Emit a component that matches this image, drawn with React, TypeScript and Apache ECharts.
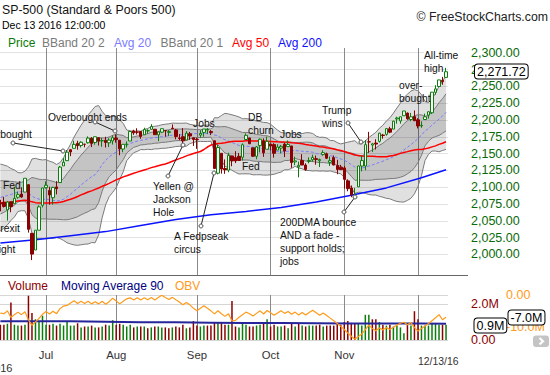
import React, { useEffect, useRef } from 'react';
import * as echarts from 'echarts';

// ---- data ---------------------------------------------------------------
// closes before the window (Apr 1 - Jun 13 2016) used by the moving averages
const PRE_CLOSES = [
  2072.78, 2066.13, 2045.17, 2066.66, 2041.91, 2047.6, 2041.99, 2061.72, 2082.42, 2082.78, 2080.73,
  2094.34, 2100.8, 2102.4, 2091.48, 2091.58, 2087.79, 2091.7, 2095.15, 2075.81, 2065.3,
  2081.43, 2063.37, 2051.12, 2050.63, 2057.14, 2058.69, 2084.39, 2064.46, 2064.11, 2046.61,
  2066.66, 2047.21, 2047.63, 2040.04, 2052.32, 2048.04, 2076.06, 2090.54, 2090.1, 2099.06, 2096.95,
  2099.33, 2105.26, 2099.13, 2109.41, 2112.13, 2119.12, 2115.48, 2096.07, 2079.06,
];

// Jun 14 2016 .. Dec 13 2016 (128 sessions)
const OPEN = [
  2076.65, 2077.6, 2066.36, 2078.2, 2075.58, 2085.19, 2089.75, 2092.8, 2103.81, 2031.45, 2006.67, 2036.09, 2073.17,
  2099.34, 2095.05, 2084.43, 2100.42, 2106.97, 2131.72, 2139.5, 2155.81, 2157.88, 2165.13, 2162.04, 2163.79, 2166.1,
  2172.91, 2166.47, 2173.71, 2168.97, 2169.81, 2166.05, 2168.83,
  2173.15, 2169.94, 2156.81, 2163.51, 2168.79, 2183.76, 2182.24, 2182.81, 2177.97, 2183.74, 2186.08, 2186.24, 2177.84,
  2181.9, 2184.24, 2181.58, 2187.81, 2185.09, 2173.29, 2175.1, 2170.19, 2179.45, 2173.56,
  2171.33, 2177.49, 2181.61, 2185.17, 2182.76, 2169.08, 2120.86, 2150.47, 2127.86, 2125.36, 2146.48, 2143.99, 2145.94,
  2144.58, 2170.94, 2173.29, 2158.54, 2146.04, 2161.85, 2168.9, 2156.51,
  2164.33, 2163.37, 2155.15, 2158.22, 2164.19, 2160.39, 2161.35, 2137.67, 2130.26, 2139.68, 2132.95, 2138.31, 2140.81,
  2142.51, 2139.43, 2148.5, 2149.72, 2136.97, 2144.06, 2132.23, 2129.78,
  2128.68, 2109.43, 2098.8, 2083.79, 2100.59, 2131.56, 2131.56, 2167.49, 2162.71, 2165.64, 2168.29, 2177.53, 2178.61,
  2186.85, 2186.43, 2201.56, 2198.55, 2206.27, 2210.21, 2200.76, 2204.97,
  2200.17, 2191.12, 2200.65, 2207.26, 2210.72, 2241.13, 2249.73, 2258.83, 2263.32,
];
const HIGH = [
  2081.3, 2085.65, 2079.62, 2078.2, 2100.66, 2093.66, 2099.71, 2113.32, 2103.81, 2031.45, 2036.09, 2073.13, 2098.94,
  2108.71, 2100.72, 2100.72, 2109.08, 2131.71, 2143.16, 2155.4, 2156.45, 2169.05, 2169.05, 2168.35, 2164.63, 2175.63,
  2174.56, 2175.11, 2173.71, 2173.54, 2174.98, 2172.85, 2177.09,
  2178.29, 2170.2, 2163.79, 2168.19, 2182.87, 2185.44, 2187.66, 2183.41, 2188.45, 2186.28, 2193.81, 2186.24, 2183.08,
  2187.03, 2185.0, 2184.93, 2193.42, 2186.66, 2179.0, 2187.94, 2183.48, 2182.27, 2173.79,
  2173.56, 2184.87, 2186.57, 2187.87, 2184.94, 2169.08, 2163.3, 2150.47, 2141.33, 2151.31, 2146.48, 2153.61, 2150.8,
  2165.11, 2179.99, 2173.75, 2158.54, 2161.13, 2172.4, 2172.67, 2175.3,
  2164.41, 2165.46, 2163.95, 2162.93, 2165.86, 2169.6, 2161.56, 2145.36, 2138.19, 2149.19, 2135.61, 2144.38, 2148.44,
  2147.18, 2142.63, 2154.79, 2151.44, 2145.73, 2147.13, 2140.72, 2133.25,
  2131.45, 2111.76, 2102.56, 2099.07, 2132.0, 2146.87, 2170.1, 2182.3, 2165.92, 2171.36, 2180.84, 2179.22, 2188.06,
  2189.89, 2198.7, 2204.8, 2204.72, 2213.35, 2211.14, 2210.46, 2214.1,
  2202.6, 2197.95, 2209.42, 2212.78, 2241.63, 2251.69, 2259.8, 2264.03, 2277.53,
];
const LOW = [
  2064.1, 2069.8, 2050.37, 2062.84, 2075.58, 2083.02, 2084.36, 2092.8, 2032.57, 1991.68, 2006.67, 2036.09, 2070.0,
  2097.9, 2074.02, 2074.02, 2089.39, 2106.97, 2131.72, 2139.5, 2146.21, 2157.88, 2155.79, 2159.07, 2159.4, 2164.89,
  2159.75, 2163.24, 2161.95, 2160.18, 2159.07, 2159.74, 2163.49,
  2166.21, 2147.58, 2152.02, 2159.07, 2168.79, 2177.85, 2178.61, 2172.0, 2177.97, 2179.42, 2186.08, 2178.14, 2168.5,
  2180.46, 2175.13, 2175.96, 2186.8, 2171.25, 2169.74, 2160.39, 2170.19, 2170.41, 2161.35,
  2157.09, 2173.59, 2175.1, 2179.07, 2177.49, 2127.81, 2119.12, 2120.27, 2119.9, 2122.36, 2131.2, 2135.91, 2139.17,
  2139.57, 2170.94, 2163.97, 2145.04, 2141.55, 2151.79, 2145.2, 2156.51,
  2154.77, 2144.01, 2155.15, 2150.28, 2144.85, 2160.39, 2128.84, 2132.77, 2114.72, 2132.98, 2124.43, 2135.49, 2138.15,
  2133.44, 2130.09, 2146.91, 2141.93, 2131.59, 2132.52, 2119.36, 2125.53,
  2097.85, 2094.0, 2085.23, 2083.79, 2100.59, 2123.56, 2125.35, 2151.17, 2152.49, 2156.08, 2166.38, 2172.2, 2176.65,
  2180.38, 2186.43, 2194.51, 2194.51, 2206.27, 2200.36, 2198.15, 2198.81,
  2187.44, 2188.37, 2199.97, 2202.21, 2208.93, 2237.57, 2249.23, 2252.37, 2263.32,
];
const CLOSE = [
  2075.32, 2071.5, 2077.99, 2071.22, 2083.25, 2088.9, 2085.45, 2113.32, 2037.41, 2000.54, 2036.09, 2070.77, 2098.86,
  2102.95, 2088.55, 2099.73, 2097.9, 2129.9, 2137.16, 2152.14, 2152.43, 2163.75, 2161.74, 2166.89, 2163.78, 2173.02,
  2165.17, 2175.03, 2168.48, 2169.18, 2166.58, 2170.06, 2173.6,
  2170.84, 2157.03, 2163.79, 2164.25, 2182.87, 2180.89, 2181.74, 2175.49, 2185.79, 2184.05, 2190.15, 2178.15, 2182.22,
  2187.02, 2183.87, 2182.64, 2186.9, 2175.44, 2172.47, 2169.04, 2180.38, 2176.12, 2170.95,
  2170.86, 2179.98, 2186.48, 2186.16, 2181.3, 2127.81, 2159.04, 2127.02, 2125.77, 2147.26, 2139.16, 2139.12, 2139.76,
  2163.12, 2177.18, 2164.69, 2146.1, 2159.93, 2171.37, 2151.13, 2168.27,
  2161.2, 2150.49, 2159.73, 2160.77, 2153.74, 2163.66, 2136.73, 2139.18, 2132.55, 2132.98, 2126.5, 2139.6, 2144.29,
  2141.34, 2141.16, 2151.33, 2143.16, 2139.43, 2133.04, 2126.41, 2126.15,
  2111.72, 2097.94, 2088.66, 2085.18, 2131.52, 2139.56, 2163.26, 2167.48, 2164.45, 2164.2, 2180.39, 2176.94, 2187.12,
  2181.9, 2198.18, 2202.94, 2204.72, 2213.35, 2201.72, 2204.66, 2198.81,
  2191.08, 2191.95, 2204.71, 2212.23, 2241.35, 2246.19, 2259.53, 2256.96, 2271.72,
];
// volume in millions
const VOLUME = [
  0.85, 0.85, 0.9, 2.09, 0.85, 0.8, 0.8, 0.85, 2.46, 1.5, 1.15, 1.05, 1.35,
  0.85, 0.85, 0.9, 0.8, 0.9, 0.8, 1.0, 0.8, 0.8, 0.93, 0.7, 0.75, 0.75, 0.8, 0.7, 0.7, 0.75, 0.85, 0.8, 1.1,
  0.85, 0.9, 0.85, 0.75, 0.85, 0.7, 0.75, 0.75, 0.75, 0.65, 0.7, 0.75, 0.75, 0.7, 0.7, 0.65, 0.7, 0.75, 0.7, 0.85, 0.65, 0.7, 1.05,
  0.8, 0.75, 0.8, 0.8, 0.8, 0.95, 1.0, 0.95, 0.85, 0.85, 2.17, 0.75, 0.7, 0.95, 0.85, 0.75, 0.75, 0.8, 0.85, 1.0, 1.15,
  0.75, 0.85, 0.75, 0.75, 0.8, 0.65, 0.9, 0.75, 0.9, 0.8, 0.75, 0.8, 0.8, 0.8, 0.85, 0.75, 0.8, 0.8, 0.8, 0.9, 0.85,
  1.0, 1.05, 0.95, 0.95, 0.9, 0.8, 1.4, 1.4, 1.15, 1.15, 1.0, 0.85, 0.8, 0.85, 0.75, 0.8, 0.7, 0.38, 0.85, 0.8, 1.6,
  1.15, 0.8, 0.8, 0.8, 0.95, 0.9, 0.85, 0.85, 0.85,
];
// on-balance volume in millions
const OBV = [
  -5.7, -5.9, -5.0, -7.1, -6.2, -5.4, -6.2, -5.3, -7.8, -9.6, -8.5, -7.4, -6.1,
  -5.2, -6.0, -5.1, -5.9, -4.3, -3.5, -3.3, -2.5, -1.8, -2.7, -2.0, -2.7, -2.0, -2.8, -2.1, -2.8, -2.0, -2.9, -2.1, -1.0,
  -1.9, -2.8, -1.95, -1.2, -0.9, -1.6, -0.85, -1.6, -0.85, -1.5, -0.8, -1.55, -0.8, -0.1, -0.8, -1.45, -0.75, -1.5, -2.2,
  -3.05, -2.4, -3.1, -4.15,
  -4.95, -4.2, -3.4, -4.2, -5.0, -5.95, -4.95, -5.9, -6.75, -5.9, -8.2, -8.0, -7.0, -6.2, -5.4, -5.9, -6.6, -5.8, -5.0,
  -6.0, -4.9,
  -5.6, -6.4, -5.7, -5.0, -5.8, -5.2, -6.1, -5.4, -6.3, -5.5, -6.3, -5.5, -4.8, -5.6, -6.4, -5.7, -6.5, -7.3, -8.1, -9.0,
  -9.9,
  -10.9, -12.0, -13.0, -14.0, -13.1, -12.3, -10.9, -9.5, -10.6, -11.3, -10.4, -11.0, -10.3, -10.9, -10.2, -9.5, -8.9,
  -8.6, -9.4, -8.7, -10.3,
  -11.4, -10.6, -9.8, -9.0, -8.1, -7.2, -6.2, -7.8, -7.0,
];
// [session index, value]
const SMA200 = [
  [0, 2017], [10, 2022], [20, 2028], [30, 2034], [40, 2043], [50, 2052], [60, 2059], [70, 2064],
  [80, 2070], [90, 2078], [100, 2088], [110, 2099], [120, 2114], [127, 2126],
];
const VOL_MA90 = [
  [0, 1.04], [10, 1.04], [20, 1.04], [30, 1.02], [40, 0.99], [50, 0.98], [60, 0.96], [70, 0.94],
  [80, 0.94], [90, 0.93], [100, 0.92], [110, 0.92], [120, 0.91], [127, 0.9],
];

const MONTH_TICKS = [13, 33, 56, 77, 98, 119];
const MONTH_NAMES = ['Jul', 'Aug', 'Sep', 'Oct', 'Nov', 'Dec'];
const PRICE_TICKS = [2000, 2025, 2050, 2075, 2100, 2125, 2150, 2175, 2200, 2225, 2250, 2275, 2300];
const VOL_GRID = [0, 2.0, 2.5];
const VOL_LABELS = [0, 2.0];
const OBV_LABELS = [0, -10];

const LAST_PRICE = '2,271.72';
const LAST_VOL_MA = '0.9M';
const LAST_OBV = '-7.0M';

// ---- layout / style -----------------------------------------------------
const FONT = '"Liberation Sans", Arial, sans-serif';
const X_MIN = -0.11;
const X_MAX = 127.56;

const ANNOTATIONS: { t: string; x: number; y: number; bg?: boolean }[] = [
  { t: 'Overbought ends', x: 48, y: 117 },
  { t: 'Overbought', x: -22, y: 134 },
  { t: 'Fed', x: 3, y: 185 },
  { t: 'Brexit', x: -6.5, y: 228 },
  { t: 'fright', x: -7.5, y: 249 },
  { t: 'Yellen @\nJackson\nHole', x: 153, y: 186 },
  { t: 'A Fedpseak\ncircus', x: 174, y: 236 },
  { t: 'Jobs', x: 193, y: 123 },
  { t: 'DB\nchurn', x: 248, y: 117 },
  { t: 'Jobs', x: 280, y: 134 },
  { t: 'Fed', x: 242, y: 166 },
  { t: 'Trump\nwins', x: 322, y: 110 },
  { t: '200DMA bounce\nAND a fade -\nsupport holds;\njobs', x: 280, y: 222 },
  { t: 'over-\nbought', x: 399, y: 85 },
  { t: 'All-time', x: 424, y: 55, bg: true },
  { t: 'high', x: 424, y: 68 },
];
const LEADERS = [
  [95, 122, 115, 131],
  [13, 143, 63, 151],
  [168, 176, 183, 145],
  [201, 226, 214, 173],
  [348, 123, 361, 142],
  [344, 212, 355, 197],
];

function rolling(n: number, k: number) {
  const all = PRE_CLOSES.concat(CLOSE);
  const mid: number[] = [], up: number[] = [], lo: number[] = [];
  for (let i = 0; i < CLOSE.length; i++) {
    const p = PRE_CLOSES.length + i;
    const w = all.slice(p - n + 1, p + 1);
    const m = w.reduce((a, b) => a + b, 0) / w.length;
    const sd = Math.sqrt(w.reduce((a, b) => a + (b - m) * (b - m), 0) / w.length);
    mid.push(m);
    up.push(m + k * sd);
    lo.push(m - k * sd);
  }
  return { mid, up, lo };
}

export default function App() {
  const ref = useRef<HTMLDivElement>(null);
  useEffect(() => {
    if (!ref.current) return;
    document.body.style.margin = '0';
    const chart = echarts.init(ref.current, undefined, { renderer: 'svg' });

    const bb2 = rolling(20, 2);
    const bb1 = rolling(20, 1);
    const sma50 = rolling(50, 0).mid;
    const idx = CLOSE.map((_, i) => i);
    const pair = (arr: number[]) => arr.map((v, i) => [i, v]);

    const bandLine = (arr: number[]) => ({
      type: 'line', xAxisIndex: 0, yAxisIndex: 0, data: pair(arr), showSymbol: false, symbol: 'none',
      lineStyle: { color: '#7a7a7a', width: 1 }, z: 3, silent: true,
    });
    const bandFill = (band: { up: number[]; lo: number[] }, fill: string, z: number) => ({
      type: 'custom', xAxisIndex: 0, yAxisIndex: 0, z, silent: true,
      data: idx.map((i) => [i, band.lo[i], band.up[i]]),
      encode: { x: 0, y: [1, 2] },
      renderItem: (params: any, api: any) => {
        if (params.dataIndex !== 0) return null;
        const top = idx.map((i) => api.coord([i, band.up[i]]));
        const bot = idx.map((i) => api.coord([i, band.lo[i]])).reverse();
        return { type: 'polygon', shape: { points: top.concat(bot) }, style: { fill } };
      },
    });

    const candles = idx.map((i) => [i, OPEN[i], CLOSE[i], LOW[i], HIGH[i]]);
    const volBars = idx.map((i) => {
      const prev = i === 0 ? PRE_CLOSES[PRE_CLOSES.length - 1] : CLOSE[i - 1];
      return { value: [i, VOLUME[i]], itemStyle: { color: CLOSE[i] >= prev ? '#0b7d0b' : '#8b0000' } };
    });

    const txt = (text: string, x: number, y: number, color: string, size: number, extra: any = {}) => ({
      type: 'text', z: 100,
      style: { text, x, y, fill: color, fontSize: size, fontFamily: FONT, verticalAlign: 'middle', ...extra },
    });

    const graphics: any[] = [
      txt('SP-500 (Standard & Poors 500)', 2, 10, '#111', 12.3),
      txt('Dec 13 2016 12:00:00', 2, 25, '#000', 10.5),
      txt('\u00a9 FreeStockCharts.com', 548, 17, '#222', 12.3, { align: 'right' }),
      txt('Price', 8, 43, '#0a7a0a', 12),
      txt('BBand 20 2', 42, 43, '#7a7a7a', 12),
      txt('Avg 20', 114, 43, '#7b7bff', 12),
      txt('BBand 20 1', 160.5, 43, '#7a7a7a', 12),
      txt('Avg 50', 232, 43, '#ff0000', 12),
      txt('Avg 200', 278, 43, '#1010ff', 12),
      txt('Volume', 8, 286, '#8b0000', 12),
      txt('Moving Average 90', 61, 286, '#000080', 12),
      txt('OBV', 175, 286, '#ff9a1a', 12),
      txt('12/13/16', 418, 361.5, '#333', 10.4),
      txt('2016', 12.5, 368, '#333', 11, { align: 'right' }),
      { type: 'line', z: 90, shape: { x1: 0, y1: 275.5, x2: 468, y2: 275.5 }, style: { stroke: '#666', lineWidth: 1 } },
      txt(LAST_PRICE, 475, 71.5, '#000', 12.5, {
        backgroundColor: '#fff', borderColor: '#000', borderWidth: 1, borderRadius: 3, padding: [1, 2, 0, 2],
      }),
      txt(LAST_VOL_MA, 474.5, 325.5, '#000', 12.5, {
        backgroundColor: '#fff', borderColor: '#000', borderWidth: 1, borderRadius: 3, padding: [1, 2, 0, 2],
      }),
      txt(LAST_OBV, 508.5, 317.5, '#000', 12.5, {
        backgroundColor: '#fff', borderColor: '#000', borderWidth: 1, borderRadius: 3, padding: [1, 2, 0, 2],
      }),
      { type: 'rect', z: 100, shape: { x: 533, y: 335.5, width: 16, height: 11.5, r: 3 }, style: { fill: '#c4c4c4' } },
      { type: 'polyline', z: 101, shape: { points: [[539.5, 338], [543, 341.2], [539.5, 344.4]] }, style: { stroke: '#fff', lineWidth: 2.2, fill: 'none' } },
    ];
    ANNOTATIONS.forEach((a) => {
      graphics.push({
        type: 'text', z: 60,
        style: {
          text: a.t, x: a.x, y: a.y - 6.5, fill: '#111', fontSize: 10.3, fontFamily: FONT, lineHeight: 13,
          verticalAlign: 'top', ...(a.bg ? { backgroundColor: '#fff' } : {}),
        },
      });
    });
    LEADERS.forEach(([x1, y1, x2, y2]) => {
      graphics.push({ type: 'line', z: 61, shape: { x1, y1, x2, y2 }, style: { stroke: '#222', lineWidth: 1 } });
      graphics.push({ type: 'circle', z: 62, shape: { cx: x1, cy: y1, r: 2 }, style: { stroke: '#555', fill: '#fff', lineWidth: 1 } });
      graphics.push({ type: 'circle', z: 62, shape: { cx: x2, cy: y2, r: 2 }, style: { stroke: '#555', fill: '#fff', lineWidth: 1 } });
    });

    const priceFmt = (v: number) =>
      v.toLocaleString('en-US', { minimumFractionDigits: 2, maximumFractionDigits: 2 });

    chart.setOption({
      animation: false,
      textStyle: { fontFamily: FONT },
      grid: [
        { left: 0, top: 48, width: 448, height: 227, containLabel: false, outerBoundsMode: 'none' },
        { left: 0, top: 295, width: 448, height: 45, containLabel: false, outerBoundsMode: 'none' },
      ],
      xAxis: [
        {
          type: 'value', gridIndex: 0, min: X_MIN, max: X_MAX,
          axisLine: { show: false }, axisTick: { show: false, customValues: MONTH_TICKS },
          axisLabel: { show: false }, splitLine: { show: true, lineStyle: { color: '#8a8a8a', width: 1 } },
        },
        {
          type: 'value', gridIndex: 1, min: X_MIN, max: X_MAX,
          axisLine: { show: false }, axisTick: { show: false, customValues: MONTH_TICKS },
          axisLabel: {
            customValues: MONTH_TICKS.slice(0, 5),
            formatter: (v: number) => MONTH_NAMES[MONTH_TICKS.indexOf(v)] || '',
            color: '#333', fontSize: 11.3, margin: 9, fontFamily: FONT,
          },
          splitLine: { show: true, lineStyle: { color: '#8a8a8a', width: 1 } },
        },
      ],
      yAxis: [
        {
          type: 'value', gridIndex: 0, position: 'right', min: 1969.5, max: 2307,
          axisLine: { show: false }, axisTick: { show: false, customValues: PRICE_TICKS },
          axisLabel: {
            customValues: PRICE_TICKS, formatter: priceFmt, color: '#0a6a0a', fontSize: 12.5, margin: 23,
            align: 'left', fontFamily: FONT,
          },
          splitLine: { show: true, lineStyle: { color: '#e2e2e2', width: 1 } },
        },
        {
          type: 'value', gridIndex: 1, position: 'right', min: 0, max: 2.5,
          axisLine: { show: false }, axisTick: { show: false, customValues: VOL_GRID },
          axisLabel: {
            customValues: VOL_LABELS, formatter: (v: number) => (v === 0 ? '0.00' : v.toFixed(1) + 'M'),
            color: '#8b0000', fontSize: 12.5, margin: 23, align: 'left', fontFamily: FONT,
          },
          splitLine: { show: true, lineStyle: { color: '#d6d6d6', width: 1 } },
        },
        {
          type: 'value', gridIndex: 1, position: 'right', min: -14.2, max: 0,
          axisLine: { show: false }, axisTick: { show: false, customValues: OBV_LABELS },
          axisLabel: {
            customValues: OBV_LABELS, formatter: (v: number) => (v === 0 ? '0.00' : v.toFixed(1) + 'M'),
            color: '#ff9a1a', fontSize: 12.5, margin: 58, align: 'left', fontFamily: FONT,
          },
          splitLine: { show: false },
        },
      ],
      series: [
        bandFill(bb2, 'rgba(0,0,0,0.12)', 1),
        bandFill(bb1, 'rgba(0,0,0,0.12)', 2),
        bandLine(bb2.up),
        bandLine(bb2.lo),
        bandLine(bb1.up),
        bandLine(bb1.lo),
        {
          type: 'line', xAxisIndex: 0, yAxisIndex: 0, data: pair(bb2.mid), symbol: 'none', z: 4,
          lineStyle: { color: '#7b7bff', width: 1, type: [3, 2] }, silent: true,
        },
        {
          type: 'line', xAxisIndex: 0, yAxisIndex: 0, data: pair(sma50), symbol: 'none', z: 4,
          lineStyle: { color: '#ff0000', width: 1.5 }, silent: true,
        },
        {
          type: 'line', xAxisIndex: 0, yAxisIndex: 0, data: SMA200, symbol: 'none', z: 4,
          lineStyle: { color: '#0a14ff', width: 1.5 }, silent: true,
        },
        {
          type: 'candlestick', xAxisIndex: 0, yAxisIndex: 0, data: candles, z: 5, barWidth: 3,
          encode: { x: 0, y: [1, 2, 3, 4] },
          itemStyle: {
            color: '#ffffff', color0: '#8b0000', borderColor: '#0a7d0a', borderColor0: '#8b0000', borderWidth: 1,
          },
          silent: true,
        },
        {
          type: 'bar', xAxisIndex: 1, yAxisIndex: 1, data: volBars, barWidth: 1.5, z: 2, silent: true,
        },
        {
          type: 'line', xAxisIndex: 1, yAxisIndex: 1, data: VOL_MA90, symbol: 'none', z: 3,
          lineStyle: { color: '#26269a', width: 2 }, silent: true,
        },
        {
          type: 'line', xAxisIndex: 1, yAxisIndex: 2, data: pair(OBV), symbol: 'none', z: 4,
          lineStyle: { color: '#ff9a1a', width: 1.2 }, silent: true,
        },
      ],
      graphic: graphics,
    });
    return () => chart.dispose();
  }, []);
  return <div ref={ref} style={{ position: 'fixed', left: 0, top: 0, width: 550, height: 375, background: '#fff' }} />;
}
